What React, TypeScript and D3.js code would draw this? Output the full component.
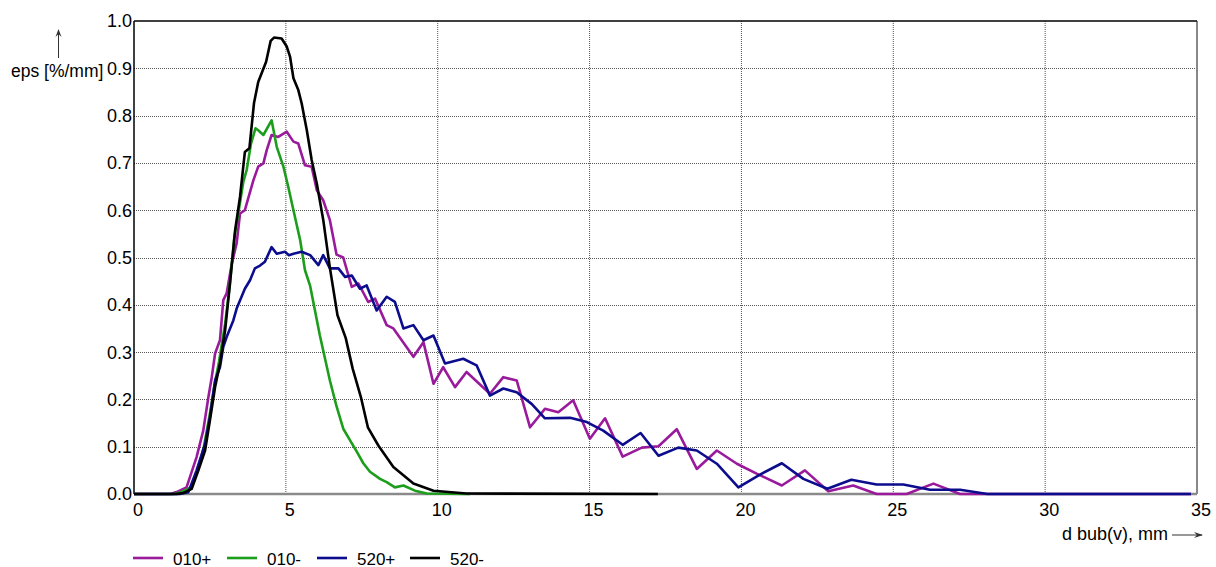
import React from "react";
import * as d3 from "d3";

// Bubble-size distributions: [d bub(v) in mm, eps in %/mm]
const s010plus: [number, number][] = [
  [0, 0], [1.2, 0], [1.4, 0.004], [1.73, 0.014], [2.06, 0.078], [2.28, 0.134], [2.45, 0.205],
  [2.56, 0.247], [2.67, 0.297], [2.83, 0.325], [2.94, 0.41], [3.05, 0.424], [3.22, 0.487],
  [3.38, 0.53], [3.49, 0.593], [3.65, 0.6], [3.93, 0.663], [4.09, 0.692], [4.26, 0.699],
  [4.37, 0.727], [4.53, 0.759], [4.75, 0.755], [5.03, 0.766], [5.25, 0.745], [5.41, 0.741],
  [5.63, 0.695], [5.85, 0.692], [6.02, 0.642], [6.23, 0.621], [6.45, 0.579], [6.67, 0.506],
  [6.89, 0.5], [7.06, 0.462], [7.17, 0.438], [7.39, 0.445], [7.71, 0.406], [7.94, 0.413],
  [8.32, 0.357], [8.54, 0.35], [9.2, 0.29], [9.53, 0.321], [9.86, 0.233], [10.18, 0.268],
  [10.57, 0.226], [10.95, 0.258], [11.72, 0.212], [12.16, 0.247], [12.6, 0.24], [13.04, 0.141],
  [13.53, 0.18], [13.97, 0.173], [14.46, 0.198], [15.01, 0.117], [15.51, 0.16], [16.09, 0.079],
  [16.72, 0.098], [17.27, 0.101], [17.87, 0.137], [18.53, 0.053], [19.19, 0.092], [19.85, 0.064],
  [20.5, 0.043], [21.33, 0.018], [22.09, 0.05], [22.86, 0.006], [23.68, 0.018], [24.45, 0],
  [25.44, 0], [26.32, 0.022], [27.2, 0], [34.8, 0],
];

const s010minus: [number, number][] = [
  [0, 0], [1.3, 0], [1.6, 0.005], [1.9, 0.015], [2.1, 0.05], [2.3, 0.1], [2.5, 0.17],
  [2.65, 0.23], [2.8, 0.28], [3.0, 0.36], [3.15, 0.44], [3.3, 0.54], [3.45, 0.6], [3.6, 0.66],
  [3.71, 0.685], [3.85, 0.74], [4.0, 0.773], [4.09, 0.769], [4.26, 0.759], [4.53, 0.79],
  [4.7, 0.734], [4.92, 0.692], [5.08, 0.649], [5.25, 0.6], [5.47, 0.537], [5.63, 0.473],
  [5.8, 0.44], [6.12, 0.335], [6.45, 0.24], [6.67, 0.185], [6.89, 0.138], [7.1, 0.115],
  [7.33, 0.09], [7.55, 0.065], [7.77, 0.047], [8.1, 0.032], [8.32, 0.025], [8.59, 0.014],
  [8.87, 0.018], [9.25, 0.007], [9.64, 0.001], [11.06, 0],
];

const s520plus: [number, number][] = [
  [0, 0], [1.5, 0], [1.79, 0.004], [2.06, 0.05], [2.34, 0.106], [2.5, 0.163], [2.67, 0.24],
  [2.83, 0.268], [2.94, 0.311], [3.05, 0.332], [3.27, 0.367], [3.38, 0.392], [3.65, 0.434],
  [3.82, 0.452], [3.98, 0.477], [4.15, 0.483], [4.31, 0.491], [4.53, 0.522], [4.7, 0.508],
  [4.97, 0.512], [5.1, 0.505], [5.25, 0.508], [5.52, 0.512], [5.8, 0.505], [6.07, 0.484],
  [6.23, 0.505], [6.45, 0.477], [6.73, 0.477], [6.95, 0.459], [7.17, 0.462], [7.44, 0.434],
  [7.66, 0.441], [7.99, 0.388], [8.32, 0.417], [8.59, 0.406], [8.87, 0.35], [9.2, 0.357],
  [9.53, 0.325], [9.86, 0.335], [10.24, 0.276], [10.84, 0.286], [11.28, 0.272], [11.72, 0.208],
  [12.16, 0.223], [12.6, 0.215], [13.1, 0.19], [13.53, 0.16], [14.36, 0.161], [14.91, 0.152],
  [15.45, 0.134], [16.09, 0.104], [16.68, 0.129], [17.27, 0.081], [17.92, 0.098], [18.53, 0.092],
  [19.19, 0.064], [19.9, 0.014], [20.61, 0.041], [21.33, 0.065], [22.04, 0.032], [22.83, 0.011],
  [23.62, 0.03], [24.45, 0.02], [25.33, 0.02], [26.21, 0.009], [27.2, 0.009], [28.1, 0],
  [34.8, 0],
];

const s520minus: [number, number][] = [
  [0, 0], [1.4, 0], [1.62, 0.002], [1.9, 0.011], [2.12, 0.05], [2.34, 0.092], [2.5, 0.156],
  [2.67, 0.226], [2.83, 0.276], [3.0, 0.346], [3.16, 0.445], [3.33, 0.558], [3.49, 0.628],
  [3.65, 0.723], [3.8, 0.731], [3.95, 0.826], [4.09, 0.871], [4.35, 0.914], [4.5, 0.958],
  [4.61, 0.965], [4.86, 0.963], [5.03, 0.946], [5.14, 0.924], [5.25, 0.879], [5.41, 0.854],
  [5.52, 0.826], [5.69, 0.769], [5.85, 0.706], [6.02, 0.656], [6.23, 0.58], [6.45, 0.478],
  [6.7, 0.378], [6.97, 0.33], [7.2, 0.265], [7.47, 0.205], [7.7, 0.141], [8.05, 0.102],
  [8.54, 0.057], [9.2, 0.022], [9.86, 0.007], [10.95, 0.001], [17.25, 0],
];

const seriesNames = ["010+", "010-", "520+", "520-"];
const seriesColors = ["#9a1a9c", "#1c9e1c", "#0c0c8e", "#000000"];
const seriesData = [s010plus, s010minus, s520plus, s520minus];

const xTicks = [0, 5, 10, 15, 20, 25, 30, 35];
const yTicks = [0.0, 0.1, 0.2, 0.3, 0.4, 0.5, 0.6, 0.7, 0.8, 0.9, 1.0];

const yLabel = "eps [%/mm]";
const xLabel = "d bub(v), mm";

const W = 1216;
const H = 567;
const FONT = "'Liberation Sans', Arial, Helvetica, sans-serif";

export default function App() {
  const x = d3.scaleLinear().domain([0, 35]).range([134, 1197]);
  const y = d3.scaleLinear().domain([0, 1]).range([494, 21]);
  const line = d3
    .line<[number, number]>()
    .x((d) => x(d[0]))
    .y((d) => y(d[1]))
    .curve(d3.curveLinear);

  const [x0, x1] = x.range();
  const [y0, y1] = y.range();

  const legendX = [133, 227, 317, 410];

  return (
    <svg
      width={W}
      height={H}
      viewBox={`0 0 ${W} ${H}`}
      style={{ position: "absolute", left: 0, top: 0, background: "#fff" }}
      fontFamily={FONT}
    >
      <rect x={0} y={0} width={W} height={H} fill="#fff" />

      {/* dotted grid */}
      {xTicks
        .filter((t) => t > 0 && t < 35)
        .map((t) => (
          <line
            key={`gx${t}`}
            x1={x(t)}
            x2={x(t)}
            y1={y1}
            y2={y0}
            stroke="#555"
            strokeWidth={1}
            strokeDasharray="1 1"
          />
        ))}
      {yTicks
        .filter((t) => t > 0 && t < 1)
        .map((t) => (
          <line
            key={`gy${t}`}
            x1={x0}
            x2={x1}
            y1={Math.round(y(t)) + 0.5}
            y2={Math.round(y(t)) + 0.5}
            stroke="#555"
            strokeWidth={1}
            strokeDasharray="1 1"
          />
        ))}

      {/* frame */}
      <line x1={x1} x2={x1} y1={y1} y2={y0} stroke="#888" strokeWidth={2} />
      <line x1={x0} x2={x1} y1={y0} y2={y0} stroke="#8a8a8a" strokeWidth={2.5} />
      <line x1={x0} x2={x1} y1={y1} y2={y1} stroke="#000" strokeWidth={1.5} />
      <line x1={x0} x2={x0} y1={y1} y2={y0} stroke="#000" strokeWidth={1.5} />

      {/* curves */}
      {seriesData.map((d, i) => (
        <path
          key={seriesNames[i]}
          d={line(d) || ""}
          fill="none"
          stroke={seriesColors[i]}
          strokeWidth={2.6}
          strokeLinejoin="round"
        />
      ))}

      {/* y tick labels */}
      {yTicks.map((t) => (
        <text
          key={`ty${t}`}
          x={132}
          y={y(t)}
          dy="0.36em"
          textAnchor="end"
          fontSize={18}
          fill="#000"
        >
          {t.toFixed(1)}
        </text>
      ))}

      {/* x tick labels */}
      {xTicks.map((t) => (
        <text
          key={`tx${t}`}
          x={x(t) + 4}
          y={516}
          textAnchor="middle"
          fontSize={18}
          fill="#000"
        >
          {t}
        </text>
      ))}

      {/* y axis title with arrow */}
      <text x={11} y={77} fontSize={17.5} fill="#000">
        {yLabel}
      </text>
      <line x1={58.5} x2={58.5} y1={58} y2={30} stroke="#333" strokeWidth={1} />
      <path d="M55.5,37 L58.5,29 L61.5,37 L58.5,34 Z" fill="#333" />

      {/* x axis title with arrow */}
      <text x={1062} y={540} fontSize={18} fill="#000">
        {xLabel}
      </text>
      <line x1={1172} x2={1202} y1={535} y2={535} stroke="#333" strokeWidth={1} />
      <path d="M1194,532 L1203,535 L1194,538 L1197,535 Z" fill="#333" />

      {/* legend */}
      {seriesNames.map((n, i) => (
        <g key={`lg${n}`}>
          <line
            x1={legendX[i]}
            x2={legendX[i] + 30}
            y1={558}
            y2={558}
            stroke={seriesColors[i]}
            strokeWidth={2.6}
          />
          <text x={legendX[i] + 40} y={564.5} fontSize={17} fill="#000">
            {n}
          </text>
        </g>
      ))}
    </svg>
  );
}
